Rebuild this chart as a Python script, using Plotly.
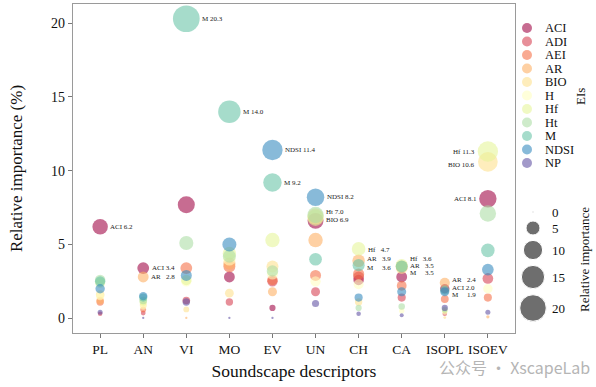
import plotly.graph_objects as go
import numpy as np

descriptors = ["PL", "AN", "VI", "MO", "EV", "UN", "CH", "CA", "ISOPL", "ISOEV"]
eis = ["ACI", "ADI", "AEI", "AR", "BIO", "H", "Hf", "Ht", "M", "NDSI", "NP"]

# relative importance (%) of each EI for each descriptor (order = descriptors)
ACI  = [6.2, 3.4, 7.7, 2.8, 0.7, 6.6, 2.6, 2.8, 2.0, 8.1]
ADI  = [0.3, 0.35, 1.2, 1.1, 2.5, 1.8, 2.8, 1.4, 0.3, 2.7]
AEI  = [1.1, 0.6, 3.4, 3.5, 2.6, 2.9, 3.0, 2.2, 1.3, 1.4]
AR   = [1.2, 2.8, 0.02, 3.7, 1.8, 5.3, 3.9, 3.5, 2.4, 0.1]
BIO  = [1.6, 0.9, 0.6, 1.7, 3.5, 6.9, 1.1, 3.4, 0.05, 10.6]
H    = [1.5, 0.8, 2.5, 4.0, 3.0, 2.5, 2.3, 0.5, 0.4, 2.0]
Hf   = [2.4, 1.1, 2.6, 4.4, 5.3, 6.8, 4.7, 3.6, 0.5, 11.3]
Ht   = [2.6, 1.2, 5.1, 4.2, 3.2, 7.0, 0.7, 0.8, 0.6, 7.1]
M    = [2.5, 1.4, 20.3, 14.0, 9.2, 4.0, 3.6, 3.5, 1.9, 4.6]
NDSI = [2.0, 1.5, 2.9, 5.0, 11.4, 8.2, 1.4, 1.8, 1.8, 3.3]
NP   = [0.4, 0.02, 1.1, 0.02, 0.02, 1.0, 0.3, 0.2, 0.7, 0.4]

values = {"ACI": ACI, "ADI": ADI, "AEI": AEI, "AR": AR, "BIO": BIO, "H": H,
          "Hf": Hf, "Ht": Ht, "M": M, "NDSI": NDSI, "NP": NP}

size_legend_values = [0, 5, 10, 15, 20]

# labelled points: (descriptor, EI, vertical nudge px, side, pad name)
labelled = [("PL", "ACI", 0, "r", False), ("AN", "ACI", 0, "r", True), ("AN", "AR", 0, "r", True),
            ("VI", "M", 0, "r", False), ("MO", "M", 0, "r", False), ("EV", "NDSI", 0, "r", False),
            ("EV", "M", 0, "r", False), ("UN", "NDSI", 0, "r", False), ("UN", "Ht", 3, "r", False),
            ("UN", "BIO", -3.5, "r", False), ("CH", "Hf", -1, "r", True), ("CH", "AR", 2, "r", True),
            ("CH", "M", -3, "r", True), ("CA", "Hf", 6.5, "r", True), ("CA", "AR", 0.5, "r", True),
            ("CA", "M", -6, "r", True), ("ISOPL", "AR", 3, "r", True), ("ISOPL", "ACI", 0.5, "r", True),
            ("ISOPL", "M", -5, "r", True), ("ISOEV", "Hf", 0, "l", False),
            ("ISOEV", "BIO", -3, "l", False), ("ISOEV", "ACI", 0, "l", False)]

colors = ["#9E0142", "#D53E4F", "#F46D43", "#FDAE61", "#FEE08B", "#FFFFBF",
          "#E6F598", "#ABDDA4", "#66C2A5", "#3288BD", "#5E4FA2"]
OPA = 0.58
FONT = "Liberation Serif"


def diam(v):
    return 1.5 + 5.6 * np.sqrt(np.asarray(v, dtype=float))


fig = go.Figure()
for ei, col in zip(eis, colors):
    fig.add_trace(go.Scatter(
        x=descriptors, y=values[ei], mode="markers", name=ei,
        marker=dict(size=diam(values[ei]), color=col, opacity=OPA, line=dict(width=0)),
        showlegend=False, xaxis="x", yaxis="y"))

# value labels
annotations = []
for d, ei, dy, side, pad in labelled:
    v = values[ei][descriptors.index(d)]
    name = ei + ("\u00a0" * max(1, 2 * (3 - len(ei)) + 1) if pad else " ")
    r = float(diam(v)) / 2
    annotations.append(dict(
        x=d, y=v, xref="x", yref="y", text=f"{name}{v:.1f}", showarrow=False,
        xanchor="left" if side == "r" else "right",
        xshift=(r + 0.5) if side == "r" else -(r + 0.5), yshift=dy,
        font=dict(family=FONT, size=7, color="#222")))

# --- manual legends on a right-hand pixel axis (x: px from 515, y: px from top)
leg_y = [28 + i * 13.5 for i in range(len(eis))]
fig.add_trace(go.Scatter(
    x=[12] * len(eis), y=leg_y, mode="markers", xaxis="x2", yaxis="y2",
    marker=dict(size=10, color=colors, opacity=OPA), showlegend=False, hoverinfo="skip"))
for ei, yy in zip(eis, leg_y):
    annotations.append(dict(x=28, y=yy, xref="x2", yref="y2", text=ei, showarrow=False,
                            xanchor="left", yanchor="middle",
                            font=dict(family=FONT, size=12.5, color="#111")))
annotations.append(dict(x=65, y=97, xref="x2", yref="y2", text="EIs", showarrow=False,
                        textangle=-90, font=dict(family=FONT, size=13, color="#111")))

size_y = [212, 228, 250, 277, 308]
fig.add_trace(go.Scatter(
    x=[18] * len(size_legend_values), y=size_y, mode="markers", xaxis="x2", yaxis="y2",
    marker=dict(size=diam(size_legend_values), color="#555555", opacity=0.85),
    showlegend=False, hoverinfo="skip"))
for sv, yy in zip(size_legend_values, size_y):
    annotations.append(dict(x=35, y=yy, xref="x2", yref="y2", text=str(sv), showarrow=False,
                            xanchor="left", yanchor="middle",
                            font=dict(family=FONT, size=13, color="#111")))
annotations.append(dict(x=69, y=260, xref="x2", yref="y2", text="Relative importance",
                        showarrow=False, textangle=-90,
                        font=dict(family=FONT, size=13, color="#111")))

W, H_ = 596, 387
L, R, T, B = 73, 0, 4, 54

# watermark
annotations.append(dict(x=1.0, y=(H_ - B - 367) / (H_ - B - T), xref="paper", yref="paper",
                        text="\u516c\u4f17\u53f7 \u00b7 XscapeLab", showarrow=False,
                        xanchor="right", yanchor="middle", xshift=-4,
                        font=dict(family="Noto Sans CJK SC", size=16, color="#b5b5b5")))

plot_w = W - L - R
main_frac = (515 - L) / plot_w

fig.update_layout(
    width=W, height=H_, margin=dict(l=L, r=R, t=T, b=B, autoexpand=False),
    paper_bgcolor="white", plot_bgcolor="white",
    font=dict(family=FONT, color="#111"),
    xaxis=dict(domain=[0, main_frac], type="category", categoryorder="array",
               categoryarray=descriptors, range=[-0.63, 9.63],
               showline=True, mirror=True, linecolor="#9a9a9a", linewidth=1.3,
               ticks="outside", ticklen=4, tickcolor="#777", showgrid=False, zeroline=False,
               tickfont=dict(family=FONT, size=13.5, color="#111"),
               title=dict(text="Soundscape descriptors", standoff=8,
                          font=dict(family=FONT, size=17.5, color="#111"))),
    yaxis=dict(domain=[0, 1], range=[-1.0, 21.3], tickvals=[0, 5, 10, 15, 20],
               showline=True, mirror=True, linecolor="#9a9a9a", linewidth=1.3,
               ticks="outside", ticklen=4, tickcolor="#777", showgrid=False, zeroline=False,
               tickfont=dict(family=FONT, size=14, color="#111"),
               title=dict(text="Relative importance (%)", standoff=24,
                          font=dict(family=FONT, size=17, color="#111"))),
    xaxis2=dict(domain=[main_frac, 1], range=[0, W - 515], visible=False, anchor="y2"),
    yaxis2=dict(domain=[0, 1], range=[H_ - B, T], visible=False, anchor="x2"),
    annotations=annotations,
)

fig.write_html("out.html", config={"displayModeBar": False},
               post_script="document.body.style.margin='0px';document.body.style.overflow='hidden';")
